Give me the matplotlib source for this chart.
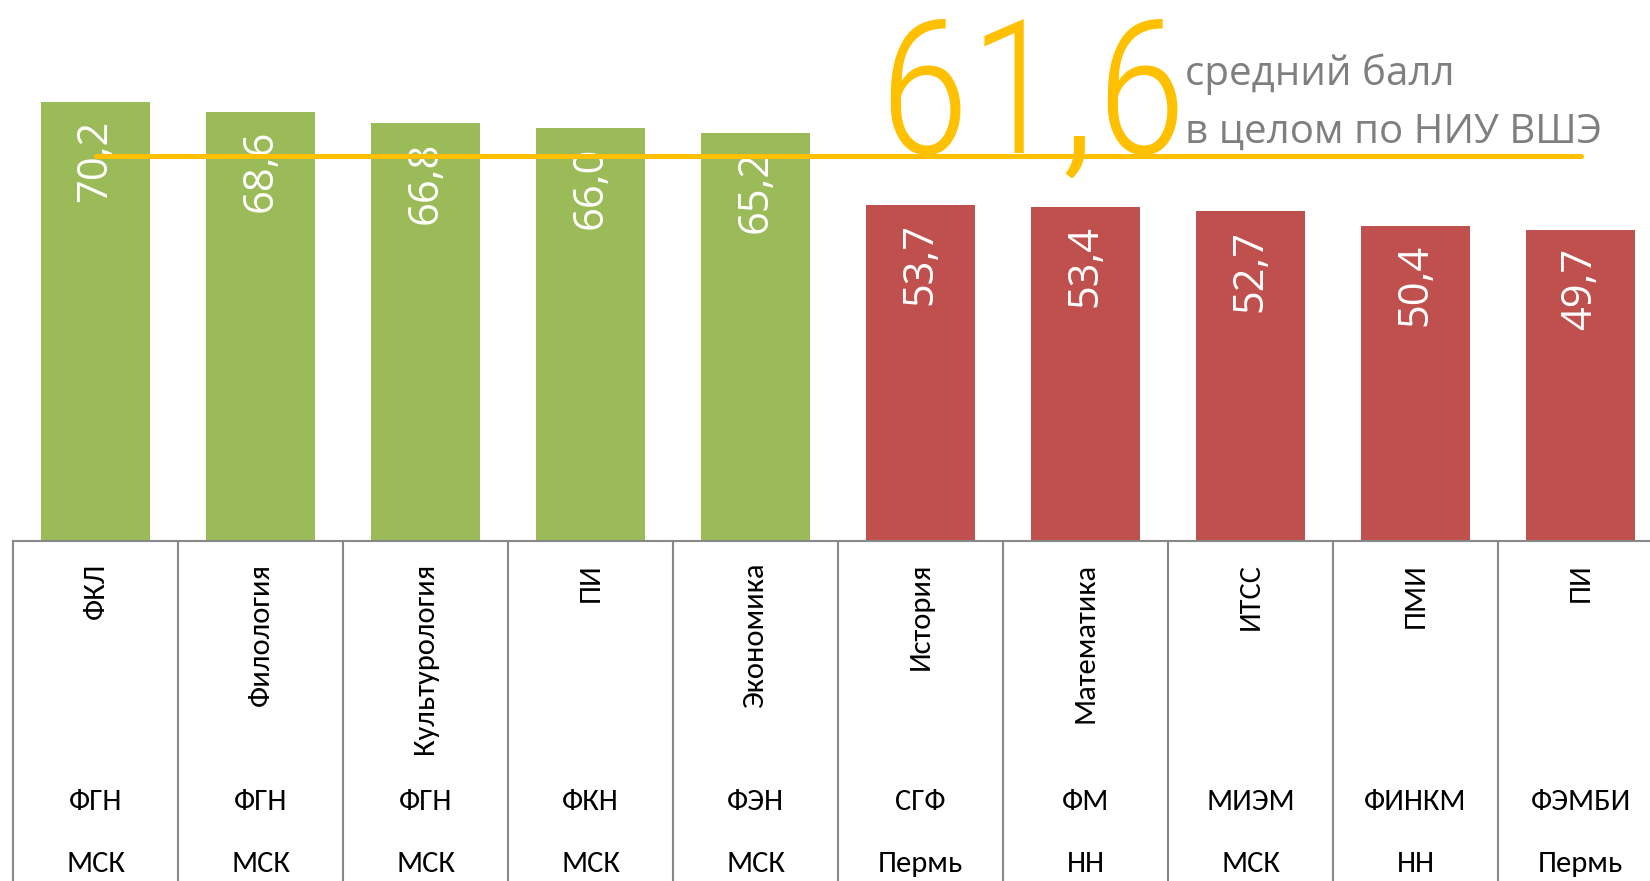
import numpy as np
import matplotlib
matplotlib.use("Agg")
import matplotlib.pyplot as plt
from matplotlib.font_manager import FontProperties
from matplotlib.textpath import TextPath

# данные
names = ["ФКЛ", "Филология", "Культурология", "ПИ", "Экономика",
         "История", "Математика", "ИТСС", "ПМИ", "ПИ"]
faculty = ["ФГН", "ФГН", "ФГН", "ФКН", "ФЭН", "СГФ", "ФМ", "МИЭМ", "ФИНКМ", "ФЭМБИ"]
city = ["МСК", "МСК", "МСК", "МСК", "МСК", "Пермь", "НН", "МСК", "НН", "Пермь"]
scores = [70.2, 68.6, 66.8, 66.0, 65.2, 53.7, 53.4, 52.7, 50.4, 49.7]
avg = 61.6

plt.rcParams['font.family'] = ['Carlito', 'Open Sans', 'DejaVu Sans']
segoe = ['Open Sans', 'DejaVu Sans']

W, H = 1650, 881
fig = plt.figure(figsize=(W/100, H/100), dpi=100)
ax = fig.add_axes([13/W, (H-541)/H, 1650/W, 541/H])

green, red = '#9BBB59', '#C0504D'
colors = [green if s > avg else red for s in scores]
x = np.arange(len(scores))
ax.bar(x, scores, width=0.66, color=colors, zorder=2)
ax.set_xlim(-0.5, 9.5)
ax.set_ylim(0, 86.5)
for sp in ['top', 'right', 'left']:
    ax.spines[sp].set_visible(False)
ax.spines['bottom'].set_color('#888888')
ax.spines['bottom'].set_linewidth(1.5)
ax.set_xticks([])
ax.set_yticks([])

# подписи значений в столбцах
for i, s in enumerate(scores):
    ax.annotate(f"{s:.1f}".replace('.', ','), (i, s), xytext=(0, -13),
                textcoords='offset points', rotation=90, ha='center', va='top',
                color='white', fontsize=30, family=segoe, zorder=3)

# линия среднего
ax.plot([0, 9], [avg, avg], color='#FFC000', lw=3.6, solid_capstyle='round', zorder=4)

# таблица категорий снизу
tr = ax.get_xaxis_transform()
ah = 541.0
for i in range(11):
    ax.plot([i-0.5, i-0.5], [0, -(H-541)/ah], color='#888888', lw=1.5,
            transform=tr, clip_on=False)
for i in range(len(scores)):
    ax.text(i, -22/ah, names[i], rotation=90, ha='center', va='top',
            fontsize=22, transform=tr, clip_on=False)
    ax.text(i, -(802-541)/ah, faculty[i], ha='center', va='center',
            fontsize=22, transform=tr, clip_on=False)
    ax.text(i, -(864-541)/ah, city[i], ha='center', va='center',
            fontsize=22, transform=tr, clip_on=False)

# большое число
big_fp = FontProperties(family='Roboto Condensed', weight='light')
h100 = TextPath((0, 0), "6", prop=big_fp, size=100).get_extents().height
big_size = 100 * (136 * 0.72) / h100
fig.text(878/W, 1-153/H, f"{avg:.1f}".replace('.', ','), color='#FFC000',
         fontproperties=big_fp, fontsize=big_size, ha='left', va='baseline')
fig.text(1185/W, 1-85/H, "средний балл", color='#7F7F7F', fontsize=29,
         family=segoe, ha='left', va='baseline')
fig.text(1185/W, 1-143/H, "в целом по НИУ ВШЭ", color='#7F7F7F', fontsize=29,
         family=segoe, ha='left', va='baseline')

fig.savefig('out.png', dpi=100)
